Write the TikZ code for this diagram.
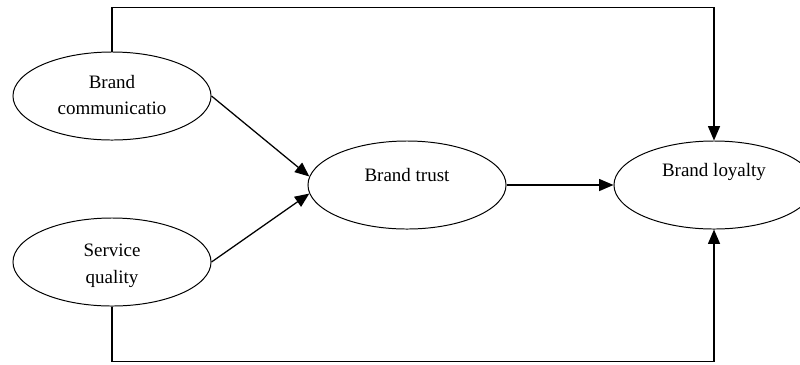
\documentclass[tikz,border=0pt]{standalone}
\usepackage{fontspec}
\setmainfont{Liberation Serif}
\usetikzlibrary{shapes.geometric, arrows.meta, positioning}

\begin{document}
\begin{tikzpicture}[x=0.025cm, y=-0.025cm, >={Triangle[length=0.36cm, width=0.3cm]},
    construct/.style={ellipse, draw, line width=0.7pt, minimum width=4.95cm, minimum height=2.2cm, inner sep=0pt},
    lbl/.style={align=center, font=\fontsize{13.5}{19}\selectfont},
    path/.style={->, line width=0.9pt}]
  \useasboundingbox (0,0) rectangle (800,364);

  % Constructs
  \node[construct] (comm)  at (112,96)  {};
  \node[construct] (qual)  at (112,262) {};
  \node[construct] (trust) at (407,185) {};
  \node[construct, minimum width=5cm] (loyal) at (714,185) {};

  % Construct labels
  \node[lbl] (commtxt)  at (112,95)  {Brand\\communicatio};
  \node[lbl] (qualtxt)  at (112,266) {Service\\quality};
  \node[lbl] (trusttxt) at (407,175) {Brand trust};
  \node[lbl] (loyaltxt) at (714,172) {Brand loyalty};

  % Paths
  \draw[path] (comm.east) -- (trust.175);
  \draw[path] (qual.east) -- (trust.185);
  \draw[path] (trust.east) -- (loyal.west);

  % Direct effects on loyalty
  \draw[path] (comm.north) -- ++(0,-44) -| (loyal.north);
  \draw[path] (qual.south) -- ++(0,55) -| (loyal.south);
\end{tikzpicture}
\end{document}
